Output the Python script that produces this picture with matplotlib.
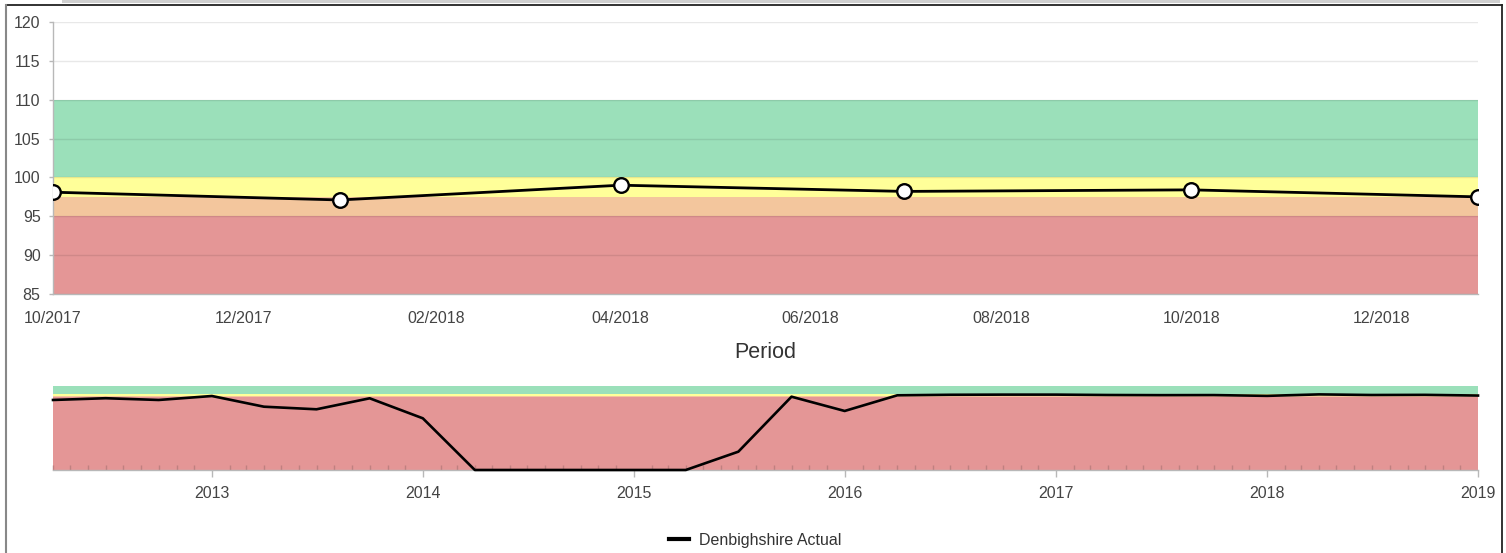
import matplotlib
matplotlib.use("Agg")
import matplotlib.pyplot as plt
import matplotlib.dates as mdates
from matplotlib.lines import Line2D
from matplotlib.patches import Rectangle
import pandas as pd

plt.rcParams['font.family'] = ['Liberation Sans', 'DejaVu Sans']

# ---- data ----
periods = ["2012-04", "2012-07", "2012-10", "2013-01", "2013-04", "2013-07", "2013-10",
           "2014-01", "2014-04", "2014-07", "2014-10", "2015-01", "2015-04", "2015-07",
           "2015-10", "2016-01", "2016-04", "2016-07", "2016-10", "2017-01", "2017-04",
           "2017-07", "2017-10", "2018-01", "2018-04", "2018-07", "2018-10", "2019-01"]
actual = [91.7, 94.0, 91.7, 96.9, 82.9, 79.5, 93.9,
          67.7, 0, 0, 0, 0, 0, 24.0,
          96.0, 77.3, 97.8, 98.5, 98.7, 98.7, 98.2,
          98.0, 98.1, 97.1, 99.0, 98.2, 98.4, 97.5]
series_name = "Denbighshire Actual"

# bands: (low, high, colour)
band_lows = [85, 95, 97.5, 100]
band_highs = [95, 97.5, 100, 110]
band_colors = ["#e49696", "#f3c69d", "#ffff99", "#9be0ba"]

top_xmin, top_xmax = "2017-10-01", "2019-01-01"
nav_xmin, nav_xmax = "2012-04-01", "2019-01-01"
top_ylim = (85, 120)
nav_ylim = (0, 110)

dates = pd.to_datetime([p + "-01" for p in periods])

W, H = 1506, 553
fig = plt.figure(figsize=(W / 100, H / 100), dpi=100)

def fx(px):
    return px / W

def fy(py):
    return 1 - py / H

label_color = "#444444"
axis_color = "#b8b8b8"

# ---- main chart ----
ax = fig.add_axes([fx(53), fy(294), fx(1478) - fx(53), fy(22) - fy(294)])
for lo, hi, c in zip(band_lows, band_highs, band_colors):
    ax.axhspan(lo, hi, color=c, zorder=0, lw=0)
for yv in range(85, 121, 5):
    ax.axhline(yv, color=(0, 0, 0, 0.09), lw=1, zorder=1)
ax.plot(dates, actual, color="black", lw=2.0, zorder=3,
        marker="o", markersize=10.5, markerfacecolor="white",
        markeredgecolor="black", markeredgewidth=1.7)
ax.set_xlim(pd.Timestamp(top_xmin), pd.Timestamp(top_xmax))
ax.set_ylim(*top_ylim)
ax.set_yticks(range(85, 121, 5))
ax.xaxis.set_major_locator(mdates.MonthLocator(bymonth=[2, 4, 6, 8, 10, 12]))
ax.xaxis.set_major_formatter(mdates.DateFormatter("%m/%Y"))
ax.tick_params(axis="x", length=0, pad=12.5, labelsize=11.5, labelcolor=label_color)
ax.tick_params(axis="y", length=3, width=1, color=axis_color, pad=6,
               labelsize=11.5, labelcolor=label_color)
for s in ["top", "right"]:
    ax.spines[s].set_visible(False)
for s in ["left", "bottom"]:
    ax.spines[s].set_color(axis_color)
    ax.spines[s].set_linewidth(1)

fig.text(fx(765.5), fy(352), "Period", ha="center", va="center",
         fontsize=15.5, color="#333333")

# ---- navigator ----
nav = fig.add_axes([fx(53), fy(470), fx(1478) - fx(53), fy(386) - fy(470)])
for lo, hi, c in zip(band_lows, band_highs, band_colors):
    nav.axhspan(lo, hi, color=c, zorder=0, lw=0)
nav.axhspan(nav_ylim[0], band_lows[0], color=band_colors[0], zorder=0, lw=0)
nav.plot(dates, actual, color="black", lw=1.9, zorder=3, clip_on=False)
nav.set_xlim(pd.Timestamp(nav_xmin), pd.Timestamp(nav_xmax))
nav.set_ylim(*nav_ylim)
nav.set_yticks([])
nav.xaxis.set_major_locator(mdates.YearLocator())
nav.xaxis.set_major_formatter(mdates.DateFormatter("%Y"))
nav.xaxis.set_minor_locator(mdates.MonthLocator())
nav.tick_params(axis="x", which="major", direction="out", length=5, width=1,
                color=axis_color, pad=6.5, labelsize=11.5, labelcolor=label_color)
nav.tick_params(axis="x", which="minor", direction="in", length=3.5, width=1,
                color="#c08080")
for s in ["top", "right", "left"]:
    nav.spines[s].set_visible(False)
nav.spines["bottom"].set_color(axis_color)
nav.spines["bottom"].set_linewidth(1)

# ---- legend ----
handle = Line2D([], [], color="black", lw=3)
fig.legend([handle], [series_name], loc="center", bbox_to_anchor=(fx(755), fy(540)),
           frameon=False, fontsize=11.5, handlelength=1.3, handletextpad=0.6,
           labelcolor="#333333")

# ---- page borders ----
fig.patches.append(Rectangle((fx(62), fy(2.5)), fx(1500) - fx(62), 2.5 / H,
                             transform=fig.transFigure, color="#d0d0d0", lw=0))
fig.lines.append(Line2D([fx(6), fx(1502)], [fy(5), fy(5)], transform=fig.transFigure,
                        color="#222222", lw=1.3))
fig.lines.append(Line2D([fx(6), fx(6)], [fy(5), 0], transform=fig.transFigure,
                        color="#888888", lw=1.5))
fig.lines.append(Line2D([fx(1501.5), fx(1501.5)], [fy(5), 0], transform=fig.transFigure,
                        color="#222222", lw=1.3))

fig.savefig("out.png", dpi=100)
